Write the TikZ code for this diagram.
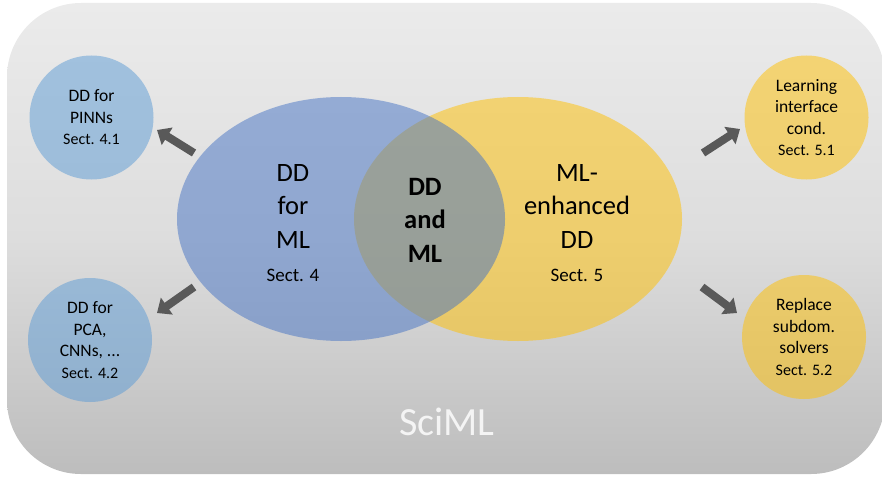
\documentclass[tikz,border=0pt]{standalone}
\usepackage{fontspec}
\setmainfont{Carlito}
\usetikzlibrary{arrows.meta,shapes.geometric}
\definecolor{bgtop}{HTML}{EBEBEB}
\definecolor{bgmid}{HTML}{DDDDDD}
\definecolor{bgbot}{HTML}{BDBDBD}
\definecolor{dblue}{HTML}{4472C4}
\definecolor{lblue}{HTML}{5B9BD5}
\definecolor{gold}{HTML}{FFC000}
\definecolor{arrgray}{HTML}{595959}
\definecolor{scitxt}{HTML}{F4F4F4}
\tikzset{
  bigset/.style={fill opacity=0.5, draw=none, inner sep=0pt},
  bigtxt/.style={align=center, font=\fontsize{26.5}{33.5}\selectfont, text=black, inner sep=0pt},
  smallc/.style={circle, minimum size=124pt, inner sep=0pt, fill opacity=0.5, text opacity=1,
     align=center, font=\fontsize{17.5}{21.5}\selectfont, text=black},
  arr/.style={draw=arrgray, line width=8pt, -{Triangle[width=20pt,length=12pt]}},
}
\newcommand{\sectsmall}{\fontsize{16}{19}\selectfont}
\newcommand{\sectbig}{\fontsize{19}{22}\selectfont}
\begin{document}
\begin{tikzpicture}[x=1pt,y=-1pt]
\useasboundingbox (0,0) rectangle (882,476);
% background
\shade[top color=bgtop, bottom color=bgbot, middle color=bgmid, rounded corners=74pt]
  (7,3) rectangle (885,474);
% big ellipses
\node[ellipse, minimum width=328pt, minimum height=244pt, fill=gold, bigset] (yellow) at (518,219) {};
\node[ellipse, minimum width=328pt, minimum height=244pt, fill=dblue, bigset] (blue) at (341,219) {};
% big texts
\node[bigtxt] (tl) at (293,223) {DD\\for\\ML\\\sectbig Sect. 4};
\node[bigtxt, font=\fontsize{26.5}{33.5}\selectfont\bfseries] (tm) at (425,220) {DD\\and\\ML};
\node[bigtxt] (tr) at (577,223) {ML-\\enhanced\\DD\\\sectbig Sect. 5};
% small circles
\node[smallc, fill=lblue] (c1) at (91.5,117.5) {DD for\\PINNs\\\sectsmall Sect. 4.1};
\node[smallc, fill=lblue] (c2) at (90,340) {DD for\\PCA,\\CNNs, ...\\\sectsmall Sect. 4.2};
\node[smallc, fill=gold] (c3) at (806.5,117.5) {Learning\\interface\\cond.\\\sectsmall Sect. 5.1};
\node[smallc, fill=gold] (c4) at (804,337) {Replace\\subdom.\\solvers\\\sectsmall Sect. 5.2};
% arrow end points
\coordinate (a1s) at (194,153); \coordinate (a1e) at (157,130);
\coordinate (a2s) at (194,287); \coordinate (a2e) at (157,313);
\coordinate (a3s) at (703,153); \coordinate (a3e) at (740,129);
\coordinate (a4s) at (702,287); \coordinate (a4e) at (737,313);
\draw[arr] (a1s) -- (a1e);
\draw[arr] (a2s) -- (a2e);
\draw[arr] (a3s) -- (a3e);
\draw[arr] (a4s) -- (a4e);
% SciML
\node[text=scitxt, font=\fontsize{40}{48}\selectfont, inner sep=0pt] (sciml) at (447,422) {SciML};
\end{tikzpicture}
\end{document}
